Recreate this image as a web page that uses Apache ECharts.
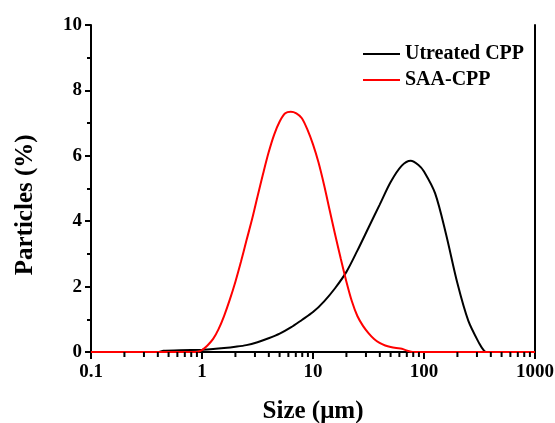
<!DOCTYPE html>
<html>
<head>
<meta charset="utf-8">
<script src="https://cdn.jsdelivr.net/npm/echarts@6/dist/echarts.min.js"></script>
<style>
  html, body { margin: 0; padding: 0; background: #fff; }
  #chart { width: 555px; height: 423px; }
</style>
</head>
<body>
<div id="chart"></div>
<script>
// particle size distribution, size in um vs particles %
var untreatedCpp = [
  [0.1, 0], [0.4, 0], [0.45, 0.04], [0.63, 0.05], [1, 0.07], [1.26, 0.09],
  [1.58, 0.12], [2, 0.16], [2.51, 0.21], [3.16, 0.3], [3.98, 0.42],
  [5.01, 0.56], [6.31, 0.75], [7.94, 0.98], [10, 1.22], [12.6, 1.55],
  [15.8, 1.95], [20, 2.45], [25.1, 3.1], [31.6, 3.8], [39.8, 4.5],
  [50.1, 5.2], [63.1, 5.7], [75.9, 5.85], [89.1, 5.72], [100, 5.52],
  [126, 4.85], [158, 3.6], [200, 2.1], [251, 0.95], [316, 0.25],
  [347, 0.04], [363, 0], [1000, 0]
];
var saaCpp = [
  [0.1, 0], [0.89, 0], [1, 0.06], [1.12, 0.2], [1.26, 0.4], [1.41, 0.7],
  [1.58, 1.1], [1.78, 1.6], [2, 2.15], [2.24, 2.75], [2.51, 3.4],
  [2.82, 4.05], [3.16, 4.75], [3.55, 5.45], [3.98, 6.1], [4.47, 6.65],
  [5.01, 7.05], [5.62, 7.3], [6.31, 7.35], [7.08, 7.3], [7.94, 7.15],
  [8.91, 6.8], [10, 6.35], [11.2, 5.8], [12.6, 5.1], [14.1, 4.35],
  [15.8, 3.6], [17.8, 2.85], [20, 2.15], [22.4, 1.55], [25.1, 1.1],
  [28.2, 0.8], [31.6, 0.58], [35.5, 0.4], [39.8, 0.28], [44.7, 0.2],
  [50.1, 0.15], [56.2, 0.12], [63.1, 0.1], [70.8, 0.04], [79.4, 0], [1000, 0]
];
var seriesNames = ['Utreated CPP', 'SAA-CPP'];
// minor tick positions on the log axis (2..9 of each decade)
var minorTickVals = [
  0.2, 0.3, 0.4, 0.5, 0.6, 0.7, 0.8, 0.9,
  2, 3, 4, 5, 6, 7, 8, 9,
  20, 30, 40, 50, 60, 70, 80, 90,
  200, 300, 400, 500, 600, 700, 800, 900
];

var font = 'Liberation Serif';
var chart = echarts.init(document.getElementById('chart'));

var option = {
  backgroundColor: '#fff',
  animation: false,
  grid: { left: 91, right: 20, top: 25, bottom: 71, outerBoundsMode: 'none' },
  legend: {
    data: seriesNames,
    orient: 'vertical',
    left: 363,
    top: 44,
    padding: 0,
    itemGap: 6,
    itemWidth: 37,
    itemHeight: 2,
    icon: 'rect',
    textStyle: { fontFamily: font, fontWeight: 'bold', fontSize: 20, color: '#000' }
  },
  xAxis: [{
    type: 'log',
    min: 0.1,
    max: 1000,
    logBase: 10,
    name: 'Size (\u03bcm)',
    nameLocation: 'middle',
    nameGap: 47,
    nameTextStyle: { fontFamily: font, fontWeight: 'bold', fontSize: 25, color: '#000' },
    axisLine: { lineStyle: { color: '#000', width: 2 } },
    axisTick: { show: true, inside: false, length: 7, lineStyle: { color: '#000', width: 2 } },
    axisLabel: {
      margin: 11,
      fontFamily: font, fontWeight: 'bold', fontSize: 19, color: '#000',
      formatter: function (v) { return String(+v.toPrecision(3)); }
    },
    splitLine: { show: false }
  }, {
    type: 'log',
    min: 0.1,
    max: 1000,
    position: 'top',
    axisLine: { lineStyle: { color: '#000', width: 2 } },
    axisTick: { show: false },
    axisLabel: { show: false },
    splitLine: { show: false }
  }],
  yAxis: [{
    type: 'value',
    min: 0,
    max: 10,
    interval: 2,
    axisLine: { show: true, lineStyle: { color: '#000', width: 2 } },
    axisTick: { show: true, inside: false, length: 6, lineStyle: { color: '#000', width: 2 } },
    minorTick: { show: true, splitNumber: 2, length: 4, lineStyle: { color: '#000', width: 2 } },
    axisLabel: { margin: 9, fontFamily: font, fontWeight: 'bold', fontSize: 19, color: '#000' },
    splitLine: { show: false }
  }, {
    type: 'value',
    min: 0,
    max: 10,
    position: 'right',
    axisLine: { show: true, lineStyle: { color: '#000', width: 2 } },
    axisTick: { show: false },
    axisLabel: { show: false },
    splitLine: { show: false }
  }],
  series: [{
    name: seriesNames[0],
    type: 'line',
    data: untreatedCpp,
    smooth: 0.3,
    showSymbol: false,
    itemStyle: { color: '#000' },
    lineStyle: { color: '#000', width: 2 }
  }, {
    name: seriesNames[1],
    type: 'line',
    data: saaCpp,
    smooth: 0.3,
    showSymbol: false,
    itemStyle: { color: '#ff0000' },
    lineStyle: { color: '#ff0000', width: 2 }
  }]
};

chart.setOption(option);

// minor ticks on the log axis + rotated y title, placed with the chart's own scales
var extras = minorTickVals.map(function (v) {
  var p = chart.convertToPixel({ xAxisIndex: 0, yAxisIndex: 0 }, [v, 0]);
  return {
    type: 'line',
    shape: { x1: p[0], y1: p[1], x2: p[0], y2: p[1] + 5 },
    style: { stroke: '#000', lineWidth: 2 },
    silent: true,
    z: 10
  };
});
var mid = chart.convertToPixel({ yAxisIndex: 0 }, 4.5);
extras.push({
  type: 'text',
  x: 26,
  y: mid,
  rotation: Math.PI / 2,
  style: {
    text: 'Particles (%)',
    fontFamily: font, fontWeight: 'bold', fontSize: 25, fill: '#000',
    align: 'center', verticalAlign: 'middle'
  }
});
chart.setOption({ graphic: extras });
</script>
</body>
</html>
